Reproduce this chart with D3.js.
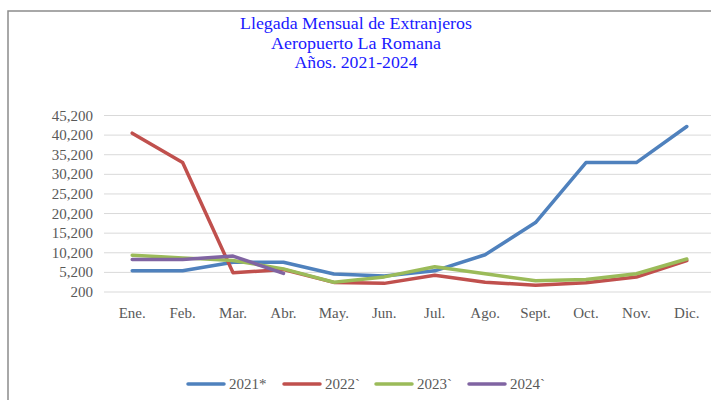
<!DOCTYPE html>
<html>
<head>
<meta charset="utf-8">
<script src="https://cdn.jsdelivr.net/npm/d3@7"></script>
<style>
  body { margin: 0; background: #fff; }
  svg { display: block; font-family: "Liberation Serif", "Times New Roman", serif; }
</style>
</head>
<body>
<div id="chart"></div>
<script>
// ── DATA ─────────────────────────────────────────────────────────────────────
const months = ['Ene.', 'Feb.', 'Mar.', 'Abr.', 'May.', 'Jun.', 'Jul.', 'Ago.', 'Sept.', 'Oct.', 'Nov.', 'Dic.'];
const seriesNames = ['2021*', '2022`', '2023`', '2024`'];
const values2021 = [5600, 5600, 7800, 7800, 4800, 4250, 5600, 9700, 17900, 33200, 33200, 42400];
const values2022 = [40700, 33200, 5100, 5950, 2650, 2400, 4450, 2700, 1900, 2550, 4000, 8200];
const values2023 = [9600, 8900, 8250, 6100, 2700, 4050, 6650, 4850, 3050, 3400, 4850, 8600];
const values2024 = [8500, 8500, 9350, 4950];
const yTicks = [200, 5200, 10200, 15200, 20200, 25200, 30200, 35200, 40200, 45200];
const titleLines = ['Llegada Mensual de Extranjeros', 'Aeropuerto La Romana', 'Años. 2021-2024'];

const colors = ['#4F81BD', '#C0504D', '#9BBB59', '#8064A2'];
const allSeries = [values2021, values2022, values2023, values2024];

// ── SVG SETUP ────────────────────────────────────────────────────────────────
const W = 711, H = 400;
const svg = d3.select('#chart').append('svg')
  .attr('width', W)
  .attr('height', H);

// outer frame (runs off right and bottom edges)
svg.append('rect')
  .attr('x', 8).attr('y', 11)
  .attr('width', 720).attr('height', 400)
  .attr('fill', 'none')
  .attr('stroke', '#8c8c8c')
  .attr('stroke-width', 1.5);

// title
svg.append('g').selectAll('text')
  .data(titleLines)
  .join('text')
    .attr('x', 356)
    .attr('y', (d, i) => [29, 49, 68][i])
    .attr('text-anchor', 'middle')
    .attr('fill', '#1a1aff')
    .attr('font-size', 17.5)
    .attr('textLength', (d, i) => [232, 170, 123][i])
    .attr('lengthAdjust', 'spacingAndGlyphs')
    .text(d => d);

// ── SCALES ───────────────────────────────────────────────────────────────────
const x = d3.scalePoint().domain(months).range([107, 712]).padding(0.5);
const y = d3.scaleLinear().domain([200, 45200]).range([292, 115.5]);

// gridlines
svg.append('g').selectAll('line')
  .data(yTicks)
  .join('line')
    .attr('x1', 104).attr('x2', W)
    .attr('y1', d => y(d)).attr('y2', d => y(d))
    .attr('stroke', '#d9d9d9')
    .attr('stroke-width', 1);

// y labels
const fmt = d3.format(',');
svg.append('g').selectAll('text')
  .data(yTicks)
  .join('text')
    .attr('x', 93)
    .attr('y', d => y(d) + 5)
    .attr('text-anchor', 'end')
    .attr('fill', '#595959')
    .attr('font-size', 15)
    .text(d => fmt(d));

// x labels
svg.append('g').selectAll('text')
  .data(months)
  .join('text')
    .attr('x', d => x(d))
    .attr('y', 318)
    .attr('text-anchor', 'middle')
    .attr('fill', '#595959')
    .attr('font-size', 15)
    .text(d => d);

// ── LINES ────────────────────────────────────────────────────────────────────
const line = d3.line()
  .x((d, i) => x(months[i]))
  .y(d => y(d));

svg.append('g').selectAll('path')
  .data(allSeries)
  .join('path')
    .attr('d', line)
    .attr('fill', 'none')
    .attr('stroke', (d, i) => colors[i])
    .attr('stroke-width', 3.5)
    .attr('stroke-linejoin', 'round')
    .attr('stroke-linecap', 'round');

// ── LEGEND ───────────────────────────────────────────────────────────────────
const legendX = [188, 284, 376, 469];
const leg = svg.append('g').selectAll('g')
  .data(seriesNames)
  .join('g')
    .attr('transform', (d, i) => `translate(${legendX[i]},384)`);

leg.append('line')
  .attr('x1', 0).attr('x2', 36)
  .attr('stroke', (d, i) => colors[i])
  .attr('stroke-width', 3.5)
  .attr('stroke-linecap', 'round');

leg.append('text')
  .attr('x', 41)
  .attr('y', 5)
  .attr('fill', '#595959')
  .attr('font-size', 15)
  .text(d => d);
</script>
</body>
</html>
